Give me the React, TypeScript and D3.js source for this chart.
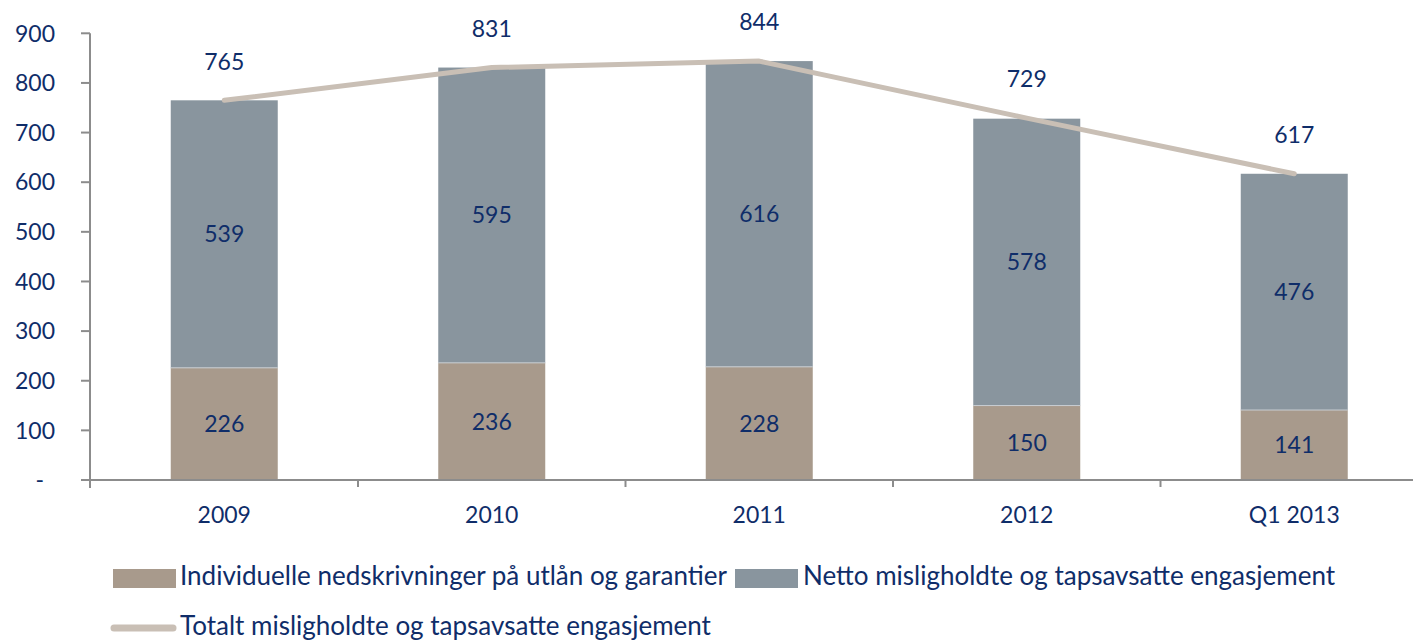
import React from "react";
import * as d3 from "d3";

const categories = ["2009", "2010", "2011", "2012", "Q1 2013"];
const individuelle = [226, 236, 228, 150, 141];
const netto = [539, 595, 616, 578, 476];
const totalt = [765, 831, 844, 729, 617];
const yTicks = [0, 100, 200, 300, 400, 500, 600, 700, 800, 900];
const legendBars = [
  "Individuelle nedskrivninger på utlån og garantier",
  "Netto misligholdte og tapsavsatte engasjement",
];
const legendLine = "Totalt misligholdte og tapsavsatte engasjement";

const W = 1413;
const H = 642;
const TEXT = "#0F2D69";
const C_IND = "#A89A8C";
const C_NET = "#89959E";
const C_LINE = "#C9BFB5";
const AXIS = "#8C8C8C";
const FONT = "Lato, 'Open Sans', sans-serif";

export default function App() {
  const x = d3
    .scaleBand<string>()
    .domain(categories)
    .range([90.5, 1428])
    .paddingInner(0.6)
    .paddingOuter(0.3);
  const y = d3.scaleLinear().domain([0, 900]).range([480, 33.3]);
  const step = x.step();
  const bw = x.bandwidth();
  const cx = (c: string) => (x(c) as number) + bw / 2;
  const boundaries = d3.range(categories.length + 1).map((i) => 90.5 + i * step);

  const line = d3
    .line<number>()
    .x((_, i) => cx(categories[i]))
    .y((d) => y(d));

  return (
    <svg
      width={W}
      height={H}
      style={{ position: "absolute", left: 0, top: 0, background: "#fff" }}
      fontFamily={FONT}
    >
      {/* Bars */}
      {categories.map((c, i) => (
        <g key={c}>
          <rect
            x={x(c)}
            y={y(individuelle[i])}
            width={bw}
            height={y(0) - y(individuelle[i])}
            fill={C_IND}
          />
          <rect
            x={x(c)}
            y={y(individuelle[i] + netto[i])}
            width={bw}
            height={y(individuelle[i]) - y(individuelle[i] + netto[i])}
            fill={C_NET}
          />
          <line
            x1={x(c)}
            x2={(x(c) as number) + bw}
            y1={y(individuelle[i])}
            y2={y(individuelle[i])}
            stroke="#C8CDD1"
            strokeWidth={1}
          />
        </g>
      ))}

      {/* Axes */}
      <line x1={81} x2={W} y1={y(0)} y2={y(0)} stroke={AXIS} strokeWidth={2} />
      <line x1={90} x2={90} y1={y(900)} y2={y(0) + 8} stroke={AXIS} strokeWidth={2} />
      {yTicks.map((t) => (
        <g key={t}>
          <line x1={81} x2={90} y1={y(t)} y2={y(t)} stroke={AXIS} strokeWidth={2} />
          <text
            x={t === 0 ? 44 : 55}
            y={y(t)}
            dy="0.36em"
            textAnchor="end"
            fontSize={23}
            fill={TEXT}
          >
            {t === 0 ? "-" : d3.format("d")(t)}
          </text>
        </g>
      ))}
      {boundaries.slice(1).map((b, i) => (
        <line key={i} x1={b} x2={b} y1={y(0)} y2={y(0) + 7} stroke={AXIS} strokeWidth={2} />
      ))}
      {categories.map((c) => (
        <text key={c} x={cx(c)} y={523} textAnchor="middle" fontSize={23} fill={TEXT}>
          {c}
        </text>
      ))}

      {/* Total line */}
      <path
        d={line(totalt) || ""}
        fill="none"
        stroke={C_LINE}
        strokeWidth={5}
        strokeLinecap="round"
        strokeLinejoin="round"
      />

      {/* Labels */}
      {categories.map((c, i) => (
        <g key={c} fontSize={23} fill={TEXT} textAnchor="middle">
          <text x={cx(c)} y={y(individuelle[i] / 2)} dy="0.36em">
            {individuelle[i]}
          </text>
          <text x={cx(c)} y={y(individuelle[i] + netto[i] / 2)} dy="0.36em">
            {netto[i]}
          </text>
          <text x={cx(c)} y={y(totalt[i]) - 39} dy="0.36em">
            {totalt[i]}
          </text>
        </g>
      ))}

      {/* Legend */}
      <rect x={113} y={569} width={63} height={19} fill={C_IND} />
      <text x={180} y={585} fontSize={26} fill={TEXT}>
        {legendBars[0]}
      </text>
      <rect x={735} y={569} width={63} height={19} fill={C_NET} />
      <text x={803} y={585} fontSize={26} fill={TEXT}>
        {legendBars[1]}
      </text>
      <line x1={114} x2={173} y1={628} y2={628} stroke={C_LINE} strokeWidth={7} strokeLinecap="round" />
      <text x={180} y={635} fontSize={26} fill={TEXT}>
        {legendLine}
      </text>
    </svg>
  );
}
